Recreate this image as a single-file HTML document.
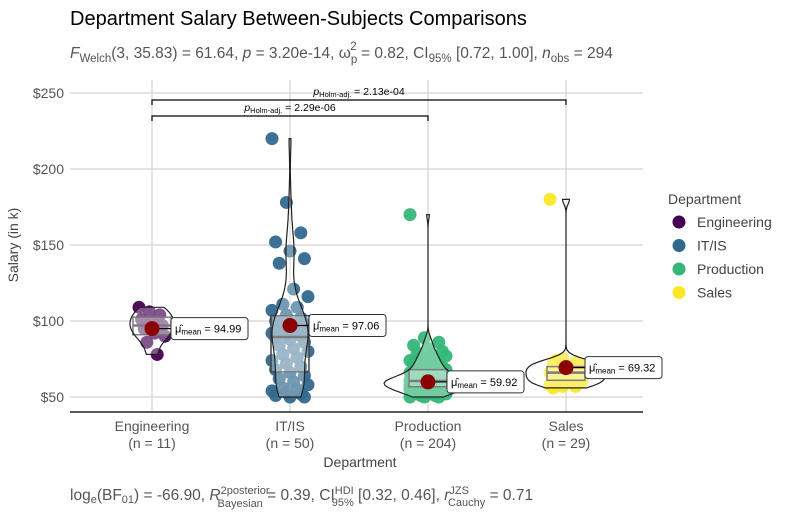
<!DOCTYPE html>
<html><head><meta charset="utf-8">
<style>
body{margin:0;background:#fff;}
svg{display:block;font-family:"Liberation Sans",sans-serif;}
</style></head>
<body>
<svg id="chart" width="800" height="520" viewBox="0 0 800 520">
<rect x="0" y="0" width="800" height="520" fill="#fff"/>
<text x="70" y="25" font-size="20" fill="#000">Department Salary Between-Subjects Comparisons</text>
<text x="70" y="58" font-size="15.5" fill="#555"><tspan font-style="italic">F</tspan><tspan font-size="11.5" dy="4">Welch</tspan><tspan dy="-4">(3, 35.83) = 61.64, </tspan><tspan font-style="italic">p</tspan><tspan> = 3.20e-14, ω</tspan><tspan font-size="11.5" dy="5">p</tspan><tspan font-size="11.5" dx="-7" dy="-13">2</tspan><tspan dy="8"> = 0.82, CI</tspan><tspan font-size="11.5" dy="4">95%</tspan><tspan dy="-4"> [0.72, 1.00], </tspan><tspan font-style="italic">n</tspan><tspan font-size="11.5" dy="4">obs</tspan><tspan dy="-4"> = 294</tspan></text>
<g id="grid"></g>
<g id="marks"></g>
<line x1="70" y1="412" x2="643" y2="412" stroke="#222" stroke-width="1.5"/>
<g id="axes"></g>
<text x="360" y="467" font-size="14" fill="#444" text-anchor="middle">Department</text>
<text x="0" y="0" font-size="14" fill="#444" text-anchor="middle" transform="translate(18,245) rotate(-90)">Salary (in k)</text>
<text x="70" y="500" font-size="15.5" fill="#555"><tspan>log</tspan><tspan font-size="11" dy="3">e</tspan><tspan dy="-3">(BF</tspan><tspan font-size="11" dy="3">01</tspan><tspan dy="-3">) = -66.90, </tspan><tspan font-style="italic">R</tspan><tspan font-size="11" dy="-6">2posterior</tspan><tspan font-size="11" dx="-52" dy="13">Bayesian</tspan><tspan dy="-7"> = 0.39, CI</tspan><tspan font-size="11" dy="-6">HDI</tspan><tspan font-size="11" dx="-22" dy="12">95%</tspan><tspan dy="-6"> [0.32, 0.46], </tspan><tspan font-style="italic">r</tspan><tspan font-size="11" dy="-6">JZS</tspan><tspan font-size="11" dx="-21" dy="12">Cauchy</tspan><tspan dy="-6"> = 0.71</tspan></text>
<g id="legend">
<text x="668" y="204" font-size="14" fill="#444">Department</text>
</g>
</svg>
<script>
const categories=["Engineering","IT/IS","Production","Sales"];
const counts=[11,50,204,29];
const means=[94.99,97.06,59.92,69.32];
const colors=["#440154","#31688E","#35B779","#FDE725"];
const yTicks=[50,100,150,200,250];
const engValues=[109,106,104,101,99,97,95,92,90,86,78];
const itValues=[220,178,158,152,146,141,138,121,116,111,109,107,104,102,100,99,98,97,96,95,94,93,92,91,90,89,88,86,84,82,80,78,76,74,72,70,68,66,64,62,60,58,56,55,54,53,52,51,50,50];
const prodValues=[170,89,86,84,82,80,79,78,77,76,75,74,73,72,72,71,70,70,69,68,68,67,66,66,65,65,64,64,63,63,62,62,62,61,61,61,60,60,60,60,59,59,59,59,58,58,58,58,57,57,57,56,56,56,55,55,55,54,54,54,53,53,52,52,51,51,50,50,50,62,63,64,60,58,57,61,59,56,55,60];
const salesValues=[180,75,73,72,71,70,69,68,68,67,66,66,65,64,64,63,62,62,61,60,60,59,58,57,57,56,70,72,74];
const groups=[engValues,itValues,prodValues,salesValues];
const pairLabels=["2.29e-06","2.13e-04"];
const pairs=[[0,2],[0,3]];

const NS="http://www.w3.org/2000/svg";
const X0=152, XSTEP=138;
function xScale(i){return X0+i*XSTEP;}
function yScale(v){return 397-(v-50)*1.52;}
function mk(tag,attrs,parent){const e=document.createElementNS(NS,tag);for(const k in attrs)e.setAttribute(k,attrs[k]);parent.appendChild(e);return e;}
const grid=document.getElementById('grid'),marks=document.getElementById('marks'),axes=document.getElementById('axes'),legend=document.getElementById('legend');

yTicks.forEach(t=>{
 const l=mk('line',{x1:70,x2:643,y1:yScale(t),y2:yScale(t),stroke:'#d3d3d3','stroke-width':1.2},grid);
 
 
 const tx=mk('text',{x:64,y:yScale(t)+5,'font-size':14,fill:'#555','text-anchor':'end'},axes);
 tx.textContent='$'+t;
 
 
});
categories.forEach((c,i)=>{
 const l=mk('line',{x1:xScale(i),x2:xScale(i),y1:80,y2:412,stroke:'#d3d3d3','stroke-width':1.2},grid);
 
 
 const t1=mk('text',{x:xScale(i),y:431,'font-size':14,fill:'#555','text-anchor':'middle'},axes);
 t1.textContent=c;
 
 
 const t2=mk('text',{x:xScale(i),y:448,'font-size':14,fill:'#555','text-anchor':'middle'},axes);
 t2.textContent='(n = '+counts[i]+')';
 
 
});

function quant(a,p){const s=[...a].sort((x,y)=>x-y);const h=(s.length-1)*p,lo=Math.floor(h);return s[lo]+(s[Math.min(lo+1,s.length-1)]-s[lo])*(h-lo);}
const violinHalf=[22,18,44,40];
const jitterScale=[2.6,3.6,3.6,3.2];
groups.forEach((vals,i)=>{
 const cx=xScale(i);
 vals.forEach((v,j)=>{
  const jit=((j*37)%11-5)*jitterScale[i];
  const p=mk('circle',{cx:cx+jit,cy:yScale(v),r:6.5,fill:colors[i],'fill-opacity':0.95},marks);
  
  
 });
 const q1=quant(vals,0.25),q2=quant(vals,0.5),q3=quant(vals,0.75);
 const b=mk('rect',{x:cx-19,y:yScale(q3),width:38,height:yScale(q1)-yScale(q3),fill:'#fff','fill-opacity':0.3,stroke:'#444','stroke-width':1.5},marks);
 
 
 const m=mk('line',{x1:cx-19,x2:cx+19,y1:yScale(q2),y2:yScale(q2),stroke:'#444','stroke-width':2.5},marks);
 
 
 const n=vals.length,mean=vals.reduce((a,b)=>a+b,0)/n;
 const sd=Math.sqrt(vals.reduce((a,b)=>a+(b-mean)**2,0)/(n-1));
 const iqr=q3-q1;
 const bw=0.9*Math.min(sd,iqr/1.34||sd)*Math.pow(n,-0.2);
 const lo=Math.min(...vals),hi=Math.max(...vals);
 const steps=80,dens=[];
 for(let k=0;k<=steps;k++){const y=lo+(hi-lo)*k/steps;let d=0;vals.forEach(v=>{d+=Math.exp(-0.5*((y-v)/bw)**2);});dens.push([y,d]);}
 const mx=Math.max(...dens.map(d=>d[1]));
 let path='';
 dens.forEach(([y,d],k)=>{path+=(k?'L':'M')+(cx+d/mx*violinHalf[i]).toFixed(1)+','+yScale(y).toFixed(1);});
 for(let k=dens.length-1;k>=0;k--){const [y,d]=dens[k];path+='L'+(cx-d/mx*violinHalf[i]).toFixed(1)+','+yScale(y).toFixed(1);}
 path+='Z';
 const vp=mk('path',{d:path,fill:'#fff','fill-opacity':0.3,stroke:'#222','stroke-width':1.2},marks);
 
 
 const my=yScale(means[i]);
 const seg=mk('line',{x1:cx,x2:cx+19,y1:my,y2:my,stroke:'#000','stroke-width':1.2},marks);
 
 
 const mc=mk('circle',{cx:cx,cy:my,r:7.5,fill:'#8B0000'},marks);
 
 
 const lb=mk('rect',{x:cx+19,y:my-11,width:77,height:22,rx:3,fill:'#fff',stroke:'#333','stroke-width':1},marks);
 
 
 const lt=mk('text',{x:cx+23,y:my+4,'font-size':11,fill:'#000'},marks);
 lt.innerHTML='μ̂<tspan font-size="8" dy="2">mean</tspan><tspan dy="-2"> = '+means[i].toFixed(2)+'</tspan>';
 
 
 const ly=222+i*23.5;
 const lc=mk('circle',{cx:679,cy:ly,r:6.5,fill:colors[i]},legend);
 
 
 const ltx=mk('text',{x:697,y:ly+5,'font-size':14,fill:'#444'},legend);
 ltx.textContent=categories[i];
 
 
});
const bracketY=[116,100];
pairs.forEach((pr,k)=>{
 const x1=xScale(pr[0]),x2=xScale(pr[1]),by=bracketY[k];
 const br=mk('path',{d:`M${x1},${by+5}L${x1},${by}L${x2},${by}L${x2},${by+5}`,fill:'none',stroke:'#000','stroke-width':1.2},marks);
 
 
 const t=mk('text',{x:(x1+x2)/2,y:by-5,'font-size':10.5,fill:'#000','text-anchor':'middle'},marks);
 t.innerHTML='<tspan font-style="italic">p</tspan><tspan font-size="7.5" dy="2">Holm-adj.</tspan><tspan dy="-2"> = '+pairLabels[k]+'</tspan>';
 
 
});
</script>
</body></html>
